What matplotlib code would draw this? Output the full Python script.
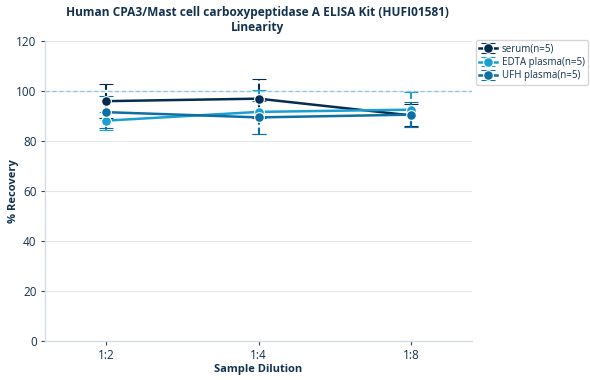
import matplotlib
matplotlib.use("Agg")
import matplotlib.pyplot as plt
import numpy as np

dilutions = ["1:2", "1:4", "1:8"]
serum = [96.0, 97.0, 90.3]
serum_err = [6.8, 7.8, 4.4]
edta = [88.2, 91.7, 92.6]
edta_err = [3.6, 8.8, 7.1]
ufh = [91.6, 89.5, 90.6]
ufh_err = [6.4, 6.5, 5.0]

series = [
    ("serum(n=5)", serum, serum_err, "#062d4f"),
    ("EDTA plasma(n=5)", edta, edta_err, "#1b9fd3"),
    ("UFH plasma(n=5)", ufh, ufh_err, "#0e6fa3"),
]

text_color = "#12324f"
plt.rcParams["font.family"] = ["Open Sans", "DejaVu Sans"]

fig = plt.figure(figsize=(5.9, 3.8), dpi=100)
ax = fig.add_axes([0.0763, 0.1026, 0.7237, 0.789])

x = np.arange(len(dilutions))
ax.axhline(100, color="#8ecae6", linewidth=1, linestyle=(0, (3, 2)), zorder=1)

for label, vals, err, color in series:
    eb = ax.errorbar(x, vals, yerr=err, color=color, linewidth=1.8, marker="o",
                     markersize=7, markeredgecolor="white", markeredgewidth=0.8,
                     capsize=5, elinewidth=1.5, capthick=1.5, label=label, zorder=3)
    eb[-1][0].set_linestyle((0, (3, 1.5)))

ax.set_xlim(-0.4, 2.4)
ax.set_ylim(0, 120)
ax.set_yticks(range(0, 121, 20))
ax.set_xticks(x)
ax.set_xticklabels(dilutions)
ax.grid(axis="y", color="#e1e7ec", linewidth=0.8, zorder=0)
ax.set_axisbelow(True)
for side in ["top", "right"]:
    ax.spines[side].set_visible(False)
for side in ["left", "bottom"]:
    ax.spines[side].set_color("#d5dde3")
    ax.spines[side].set_linewidth(1)
ax.tick_params(axis="both", colors=text_color, labelsize=8.5, length=3, pad=3)
ax.tick_params(axis="both", color="#33475b")

ax.set_xlabel("Sample Dilution", fontsize=8, fontweight="bold", color=text_color)
ax.set_ylabel("% Recovery", fontsize=8, fontweight="bold", color=text_color)
ax.xaxis.set_label_coords(0.5, -0.077)
ax.yaxis.set_label_coords(-0.062, 0.5)
fig.text(0.437, 0.985, "Human CPA3/Mast cell carboxypeptidase A ELISA Kit (HUFI01581)\nLinearity",
         ha="center", va="top", fontsize=8.6, fontweight="bold", color=text_color,
         linespacing=1.2)

leg = ax.legend(loc="upper left", bbox_to_anchor=(1.005, 1.01), fontsize=7,
                frameon=True, fancybox=True, edgecolor="#cccccc",
                handlelength=1.8, handletextpad=0.5, borderpad=0.35,
                labelspacing=0.25, borderaxespad=0.2)
for t in leg.get_texts():
    t.set_color(text_color)

fig.savefig("out.png", dpi=100)
